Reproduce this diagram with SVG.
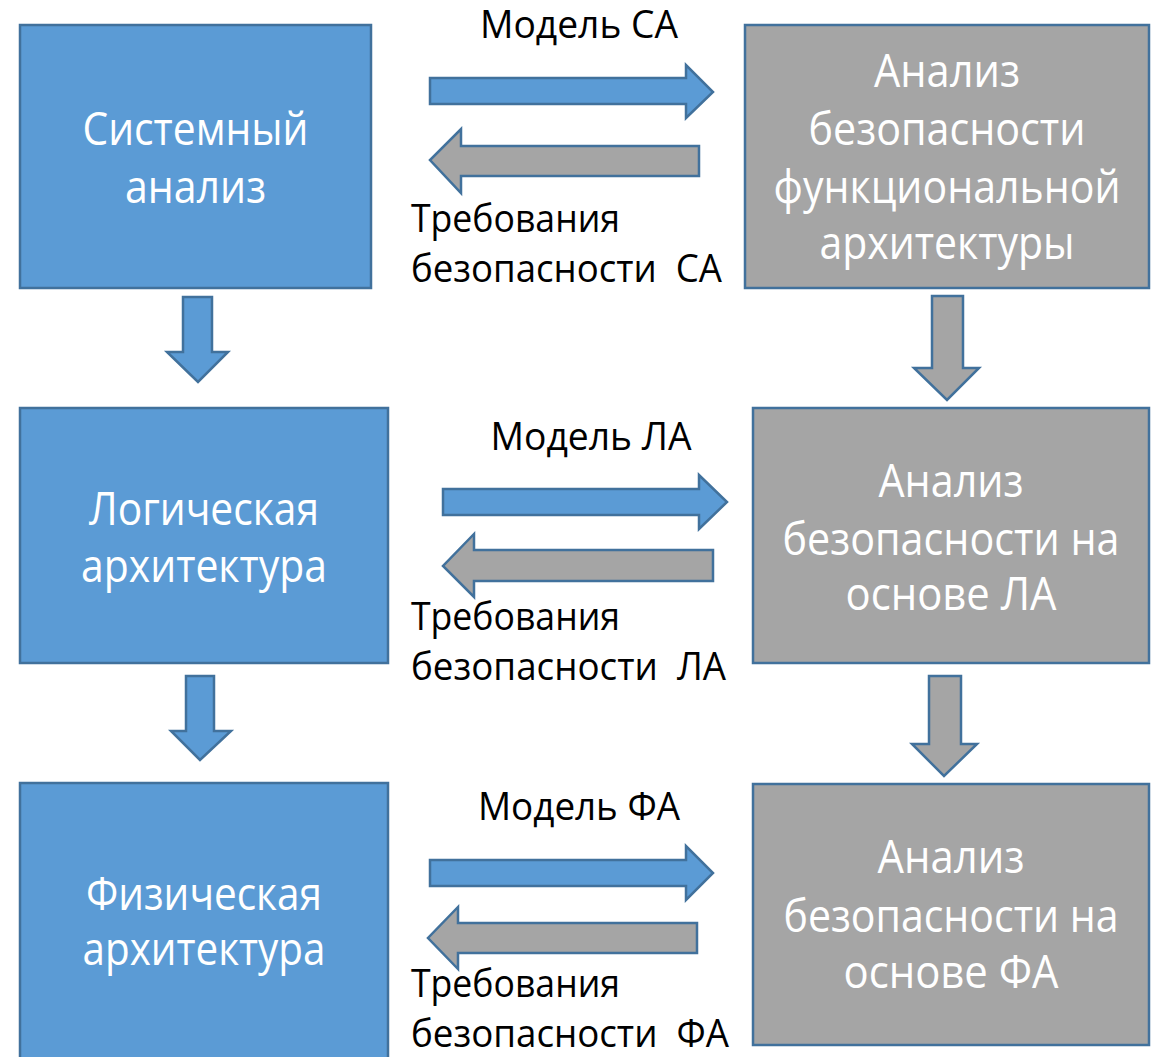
<svg xmlns="http://www.w3.org/2000/svg" width="1158" height="1057" viewBox="0 0 1158 1057">
  <style>
    .blue { fill: #5B9BD5; stroke: #41719C; stroke-width: 2.5; }
    .gray { fill: #A5A5A5; stroke: #41719C; stroke-width: 2.5; }
    .arrow-blue { fill: #5B9BD5; stroke: #41719C; stroke-width: 2.5; stroke-linejoin: miter; }
    .arrow-gray { fill: #A5A5A5; stroke: #41719C; stroke-width: 2.5; stroke-linejoin: miter; }
    .box-text { font-family: "Open Sans", "Liberation Sans", sans-serif; font-size: 45px; fill: #FFFFFF; text-anchor: middle; }
    .label { font-family: "Open Sans", "Liberation Sans", sans-serif; font-size: 38px; fill: #000000; }
    .label-c { text-anchor: middle; }
  </style>
  <rect width="1158" height="1057" fill="#FFFFFF"/>

  <!-- Connectors: horizontal exchange arrows and vertical flow arrows -->
  <g id="connectors">
    <!-- row 1 -->
    <polygon class="arrow-blue" points="430,78 686,78 686,65 713,92 686,118 686,104 430,104"/>
    <polygon class="arrow-gray" points="699,146 461,146 461,129 430,160 461,193 461,176 699,176"/>
    <!-- row 2 -->
    <polygon class="arrow-blue" points="443,489 699,489 699,475 727,502 699,529 699,515 443,515"/>
    <polygon class="arrow-gray" points="713,550 474,550 474,534 443,566 474,597 474,581 713,581"/>
    <!-- row 3 -->
    <polygon class="arrow-blue" points="430,860 686,860 686,846 713,873 686,900 686,886 430,886"/>
    <polygon class="arrow-gray" points="697,923 458,923 458,907 428,938 458,969 458,953 697,953"/>
    <!-- vertical, left column -->
    <polygon class="arrow-blue" points="183,297 212,297 212,352 228,352 198,382 167,352 183,352"/>
    <polygon class="arrow-blue" points="186,676 214,676 214,731 231,731 200,760 171,731 186,731"/>
    <!-- vertical, right column -->
    <polygon class="arrow-gray" points="932,296 963,296 963,368 979,368 947,400 914,368 932,368"/>
    <polygon class="arrow-gray" points="929,676 961,676 961,744 977,744 944,776 912,744 929,744"/>
  </g>

  <!-- Left column: design stages -->
  <g id="system-analysis">
    <rect class="blue" x="20" y="25" width="351" height="263"/>
    <text class="box-text" x="195.5" y="145" textLength="226" lengthAdjust="spacingAndGlyphs">Системный</text>
    <text class="box-text" x="195.5" y="203" textLength="141" lengthAdjust="spacingAndGlyphs">анализ</text>
  </g>
  <g id="logical-architecture">
    <rect class="blue" x="20" y="408" width="368" height="255"/>
    <text class="box-text" x="204" y="525" textLength="230" lengthAdjust="spacingAndGlyphs">Логическая</text>
    <text class="box-text" x="204" y="582" textLength="246" lengthAdjust="spacingAndGlyphs">архитектура</text>
  </g>
  <g id="physical-architecture">
    <rect class="blue" x="20" y="783" width="368" height="290"/>
    <text class="box-text" x="204" y="910" textLength="236" lengthAdjust="spacingAndGlyphs">Физическая</text>
    <text class="box-text" x="204" y="965" textLength="243" lengthAdjust="spacingAndGlyphs">архитектура</text>
  </g>

  <!-- Right column: safety analyses -->
  <g id="safety-functional">
    <rect class="gray" x="745" y="25" width="404" height="263"/>
    <text class="box-text" x="947" y="87" textLength="146" lengthAdjust="spacingAndGlyphs">Анализ</text>
    <text class="box-text" x="947" y="145" textLength="277" lengthAdjust="spacingAndGlyphs">безопасности</text>
    <text class="box-text" x="947" y="203" textLength="347" lengthAdjust="spacingAndGlyphs">функциональной</text>
    <text class="box-text" x="947" y="259" textLength="255" lengthAdjust="spacingAndGlyphs">архитектуры</text>
  </g>
  <g id="safety-logical">
    <rect class="gray" x="753" y="408" width="396" height="255"/>
    <text class="box-text" x="951" y="497" textLength="145" lengthAdjust="spacingAndGlyphs">Анализ</text>
    <text class="box-text" x="951" y="555" textLength="337" lengthAdjust="spacingAndGlyphs">безопасности на</text>
    <text class="box-text" x="951" y="610" textLength="211" lengthAdjust="spacingAndGlyphs">основе ЛА</text>
  </g>
  <g id="safety-physical">
    <rect class="gray" x="753" y="784" width="396" height="261"/>
    <text class="box-text" x="951" y="873" textLength="147" lengthAdjust="spacingAndGlyphs">Анализ</text>
    <text class="box-text" x="951" y="932" textLength="335" lengthAdjust="spacingAndGlyphs">безопасности на</text>
    <text class="box-text" x="951" y="988" textLength="215" lengthAdjust="spacingAndGlyphs">основе ФА</text>
  </g>

  <!-- Exchange labels -->
  <g id="labels">
    <text class="label label-c" x="579" y="38" textLength="198" lengthAdjust="spacingAndGlyphs">Модель СА</text>
    <text class="label" x="411" y="232" textLength="209" lengthAdjust="spacingAndGlyphs">Требования</text>
    <text class="label" x="411" y="282" textLength="311" lengthAdjust="spacingAndGlyphs" xml:space="preserve">безопасности  СА</text>

    <text class="label label-c" x="591" y="450" textLength="201" lengthAdjust="spacingAndGlyphs">Модель ЛА</text>
    <text class="label" x="411" y="630" textLength="209" lengthAdjust="spacingAndGlyphs">Требования</text>
    <text class="label" x="411" y="680" textLength="315" lengthAdjust="spacingAndGlyphs" xml:space="preserve">безопасности  ЛА</text>

    <text class="label label-c" x="579" y="820" textLength="202" lengthAdjust="spacingAndGlyphs">Модель ФА</text>
    <text class="label" x="411" y="997" textLength="209" lengthAdjust="spacingAndGlyphs">Требования</text>
    <text class="label" x="411" y="1047" textLength="318" lengthAdjust="spacingAndGlyphs" xml:space="preserve">безопасности  ФА</text>
  </g>
</svg>
